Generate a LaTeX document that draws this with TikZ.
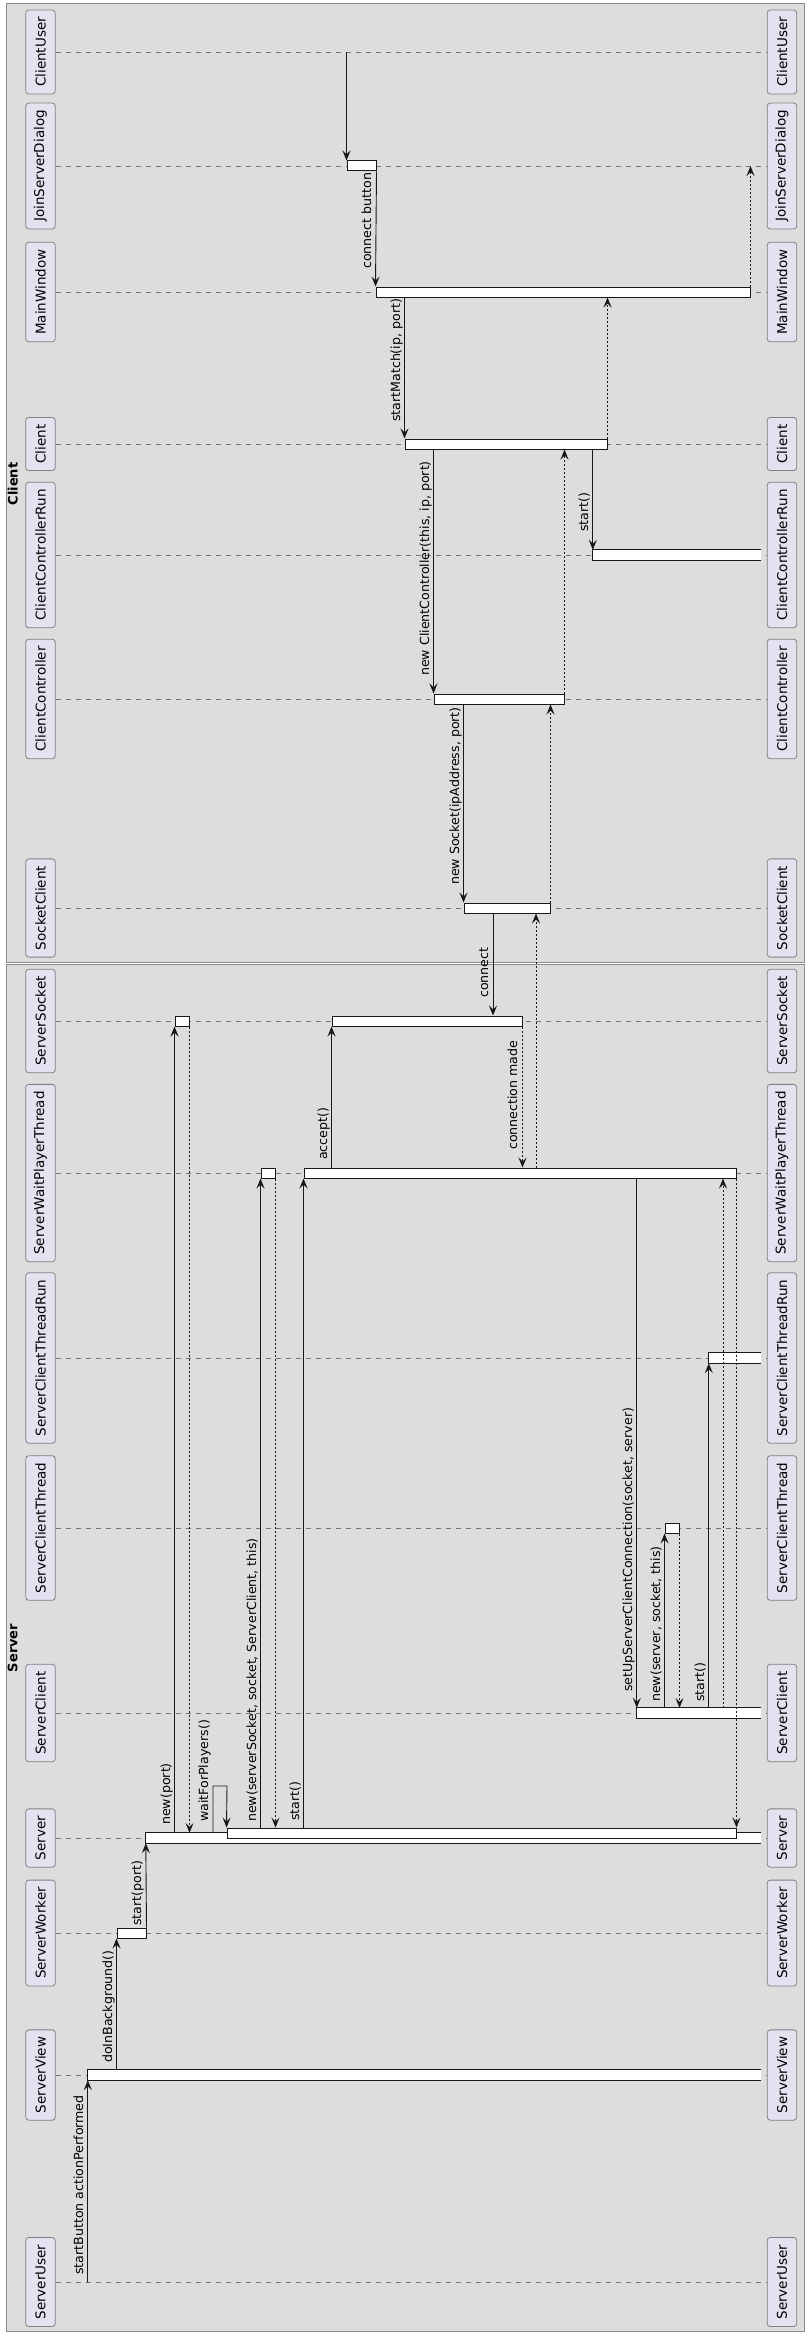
\documentclass[tikz,border=0pt]{standalone}
\usepackage{fontspec}
\setmainfont{DejaVu Sans}
\usepackage{tikz}
\usetikzlibrary{positioning,calc,arrows.meta}
\definecolor{ink}{HTML}{181818}
\definecolor{partfill}{HTML}{E2E2F0}
\definecolor{groupfill}{HTML}{DDDDDD}
\tikzset{>={Stealth[length=10pt,width=8pt,inset=4pt]}}
\tikzset{
  part/.style={rotate=90,draw=ink!55,fill=partfill,rounded corners=3pt,line width=0.8pt,
    minimum height=29.5pt,inner xsep=7pt,inner ysep=0pt,font=\fontsize{13.5}{16}\selectfont},
  life/.style={ink!60,line width=0.8pt,dash pattern=on 5pt off 5pt},
  bar/.style={draw=ink,fill=white,line width=1pt,minimum height=10pt,inner sep=0pt},
  openbar/.style={fill=white,minimum height=10pt,inner sep=0pt},
  barline/.style={ink,line width=1pt},
  msg/.style={->,ink,line width=0.9pt},
  ret/.style={->,ink,line width=0.9pt,dash pattern=on 2pt off 2pt},
  lbl/.style={rotate=90,anchor=base west,inner sep=0pt,font=\fontsize{12.6}{15}\selectfont},
  grp/.style={rotate=90,anchor=north,inner sep=0.5pt,font=\fontsize{13}{15}\selectfont\bfseries},
  box/.style={draw=ink!50,fill=groupfill,line width=1pt}
}
\newcommand{\openside}[1]{\draw[barline] (#1.north east) -- (#1.north west) -- (#1.south west) -- (#1.south east);}

\begin{document}
\begin{tikzpicture}[x=1pt,y=-1pt]
\fill[white] (0,0) rectangle (807,2333);
\useasboundingbox (0,0) rectangle (807,2333);

% groups
\draw[box] (6,4) rectangle (804,962);
\draw[box] (6,964) rectangle (804,2331);
\node[grp] (tClient) at (7,484) {Client};
\node[grp] (tServer) at (7,1648) {Server};

% participants and lifelines
\foreach \n/\y/\t in {CU/52/ClientUser, JSD/166/JoinServerDialog, MW/292/MainWindow,
    CL/444/Client, CCR/555/ClientControllerRun, CC/699/ClientController,
    SC/908/SocketClient, SS/1021/ServerSocket, SWPT/1173/ServerWaitPlayerThread,
    SCTR/1358/ServerClientThreadRun, SCT/1528/ServerClientThread,
    SCl/1713/ServerClient, SV/1838/Server, SW/1933/ServerWorker,
    SVw/2075/ServerView, SU/2282/ServerUser} {
  \coordinate (\n) at (0,\y);
  \node[part] (p\n) at (40.5,\y) {\t};
  \node[part] (q\n) at (782,\y) {\t};
  \draw[life] (p\n.south) -- (q\n.north);
}

% activations
\node[bar,minimum width=29] (aJSD) at (361.5,166) {};
\node[bar,minimum width=374] (aMW) at (563,292) {};
\node[bar,minimum width=202] (aCL) at (506,444) {};
\node[openbar,minimum width=168] (aCCR) at (677,555) {};
\openside{aCCR}
\node[bar,minimum width=130] (aCC) at (499,699) {};
\node[bar,minimum width=86] (aSC) at (507,908) {};
\node[bar,minimum width=14] (aSS1) at (182,1021) {};
\node[bar,minimum width=190] (aSS2) at (427,1021) {};
\node[bar,minimum width=14] (aSWPT1) at (268,1173) {};
\node[bar,minimum width=432] (aSWPT2) at (520,1173) {};
\node[openbar,minimum width=52] (aSCTR) at (735,1358) {};
\openside{aSCTR}
\node[bar,minimum width=14] (aSCT) at (672,1528) {};
\node[openbar,minimum width=124] (aSCl) at (699,1713) {};
\openside{aSCl}
\node[openbar,minimum width=615] (aSV1) at (453.5,1838) {};
\openside{aSV1}
\node[bar,minimum width=509] (aSV2) at (481.5,1833) {};
\node[bar,minimum width=29] (aSW) at (131.5,1933) {};
\node[openbar,minimum width=673] (aSVw) at (424.5,2075) {};
\openside{aSVw}

% client side
\draw[msg] (aJSD.north west |- CU) -- (aJSD.north west);
\draw[msg] (aJSD.south east) -- (aMW.north west);
\node[lbl] (l1) at (371,269) {connect button};
\draw[ret] (aMW.north east) -- (aMW.north east |- JSD);
\draw[msg] (aCL.north west |- aMW.south) -- (aCL.north west);
\node[lbl] (l2) at (400,422) {startMatch(ip, port)};
\draw[ret] (aCL.north east) -- (aCL.north east |- aMW.south);
\draw[msg] (aCC.north west |- aCL.south) -- (aCC.north west);
\node[lbl] (l3) at (429,676) {new ClientController(this, ip, port)};
\draw[msg] (aCCR.north west |- aCL.south) -- (aCCR.north west);
\node[lbl] (l4) at (588,532) {start()};
\draw[ret] (aCC.north east) -- (aCC.north east |- aCL.south);
\draw[msg] (aSC.north west |- aCC.south) -- (aSC.north west);
\node[lbl] (l5) at (459,885) {new Socket(ipAddress, port)};
\draw[ret] (aSC.north east) -- (aSC.north east |- aCC.south);

% across to the server
\draw[msg] (493,0 |- aSC.south) -- (493,0 |- aSS2.north);
\node[lbl] (l6) at (488,998) {connect};
\draw[msg] (aSS2.south west |- aSWPT2.north) -- (aSS2.south west);
\node[lbl] (l7) at (327,1160) {accept()};
\draw[ret] (aSS2.south east) -- (aSS2.south east |- aSWPT2.north);
\node[lbl] (l8) at (517,1150) {connection made};
\draw[ret] (536,0 |- aSWPT2.north) -- (536,0 |- aSC.south);

% server side
\draw[msg] (aSCl.north west |- aSWPT2.south) -- (aSCl.north west);
\node[lbl] (l9) at (632,1692) {setUpServerClientConnection(socket, server)};
\draw[msg] (aSCT.south west |- aSCl.north) -- (aSCT.south west);
\node[lbl] (l10) at (660,1702) {new(server, socket, this)};
\draw[ret] (aSCT.south east) -- (aSCT.south east |- aSCl.north);
\draw[msg] (aSCTR.south west |- aSCl.north) -- (aSCTR.south west);
\node[lbl] (l11) at (704,1702) {start()};
\draw[ret] (723,0 |- aSCl.north) -- (723,0 |- aSWPT2.south);
\draw[ret] (aSWPT2.south east) -- (aSV2.north east);

\draw[msg] (aSVw.south west |- SU) -- (aSVw.south west);
\node[lbl] (l12) at (83,2275) {startButton actionPerformed};
\draw[msg] (aSW.south west |- aSVw.north) -- (aSW.south west);
\node[lbl] (l13) at (112,2063) {doInBackground()};
\draw[msg] (aSW.north east) -- (aSV1.south west);
\node[lbl] (l14) at (141,1926) {start(port)};
\draw[msg] (aSS1.south west |- aSV1.north) -- (aSS1.south west);
\node[lbl] (l15) at (170,1825) {new(port)};
\draw[ret] (aSS1.south east) -- (aSS1.south east |- aSV1.north);
\draw[msg] (213,0 |- aSV1.north) |- (227,1786) -- (aSV2.north west);
\node[lbl] (l16) at (208,1822) {waitForPlayers()};
\draw[msg] (aSWPT1.south west |- aSV2.north) -- (aSWPT1.south west);
\node[lbl] (l17) at (256,1822) {new(serverSocket, socket, ServerClient, this)};
\draw[ret] (aSWPT1.south east) -- (aSWPT1.south east |- aSV2.north);
\draw[msg] (aSWPT2.south west |- aSV2.north) -- (aSWPT2.south west);
\node[lbl] (l18) at (299,1821) {start()};
\end{tikzpicture}
\end{document}
